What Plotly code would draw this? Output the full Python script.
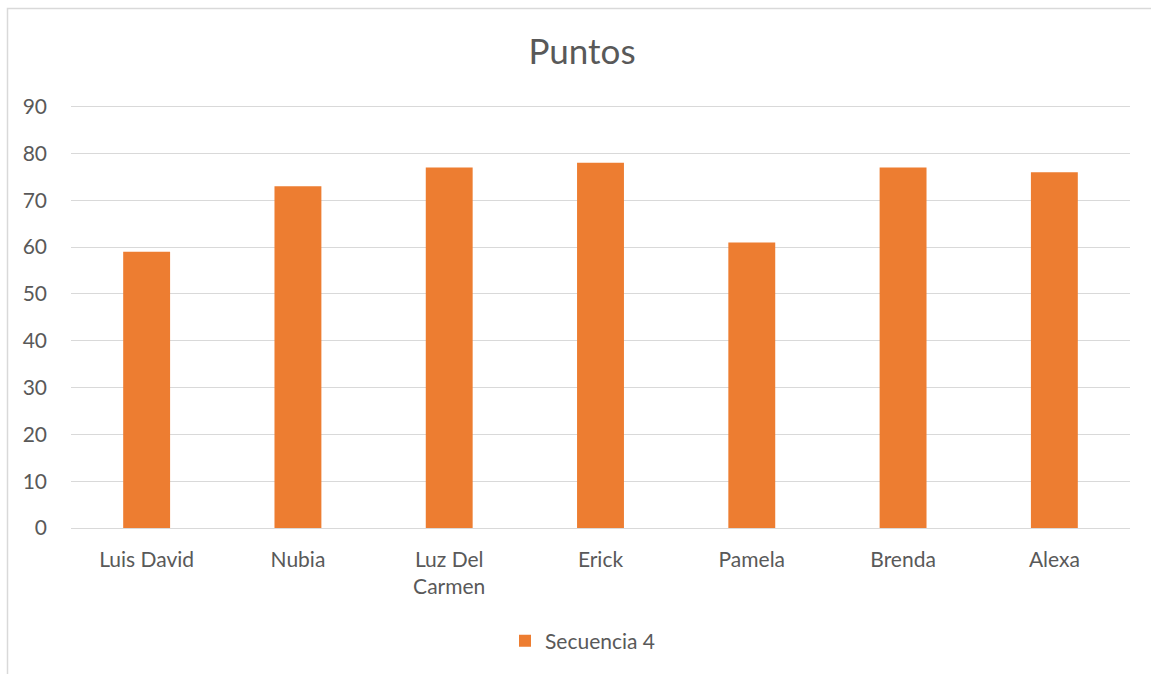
import plotly.graph_objects as go

categories = ["Luis David", "Nubia", "Luz Del<br>Carmen", "Erick", "Pamela", "Brenda", "Alexa"]
values = [59, 73, 77, 78, 61, 77, 76]
series_name = "Secuencia 4"
y_ticks = [0, 10, 20, 30, 40, 50, 60, 70, 80, 90]

FONT = "Lato, 'Open Sans', sans-serif"
GREY = "#595959"

fig = go.Figure()
fig.add_trace(go.Bar(
    x=categories, y=values, name=series_name,
    marker=dict(color="#ED7D31", line=dict(width=0)),
))

W, H = 1151, 674
L, R, T, B = 71, 21, 102, 146
pw, ph = W - L - R, H - T - B

def px_x(x):
    return (x - L) / pw

def px_y(y):
    return (H - B - y) / ph

fig.update_layout(
    width=W, height=H,
    margin=dict(l=L, r=R, t=T, b=B, autoexpand=False),
    paper_bgcolor="white", plot_bgcolor="white",
    font=dict(family=FONT, color=GREY, size=21),
    title=dict(text="Puntos", x=582 / W, xref="container", xanchor="center",
               y=1 - 52 / H, yref="container", yanchor="middle",
               font=dict(size=35, color=GREY, family=FONT)),
    bargap=0.69,
    showlegend=True,
    legend=dict(orientation="h", x=px_x(583), xanchor="center", y=px_y(641), yanchor="middle",
                font=dict(size=21, color=GREY), itemwidth=30, traceorder="normal"),
    xaxis=dict(showgrid=False, showline=False, ticks="", tickfont=dict(size=21, color=GREY),
               tickangle=0, ticklabelstandoff=17),
    yaxis=dict(range=[0, 91], tickvals=y_ticks, showgrid=True, gridcolor="#d9d9d9", gridwidth=1,
               zeroline=True, zerolinecolor="#d9d9d9", zerolinewidth=1, showline=False, ticks="",
               tickfont=dict(size=21, color=GREY), ticklabelstandoff=23),
    shapes=[dict(type="rect", xref="paper", yref="paper",
                 x0=px_x(7.5), x1=px_x(1170), y0=px_y(700), y1=px_y(8.5),
                 line=dict(color="#d9d9d9", width=1.5), fillcolor="rgba(0,0,0,0)", layer="below")],
)

fig.write_html("out.html")
